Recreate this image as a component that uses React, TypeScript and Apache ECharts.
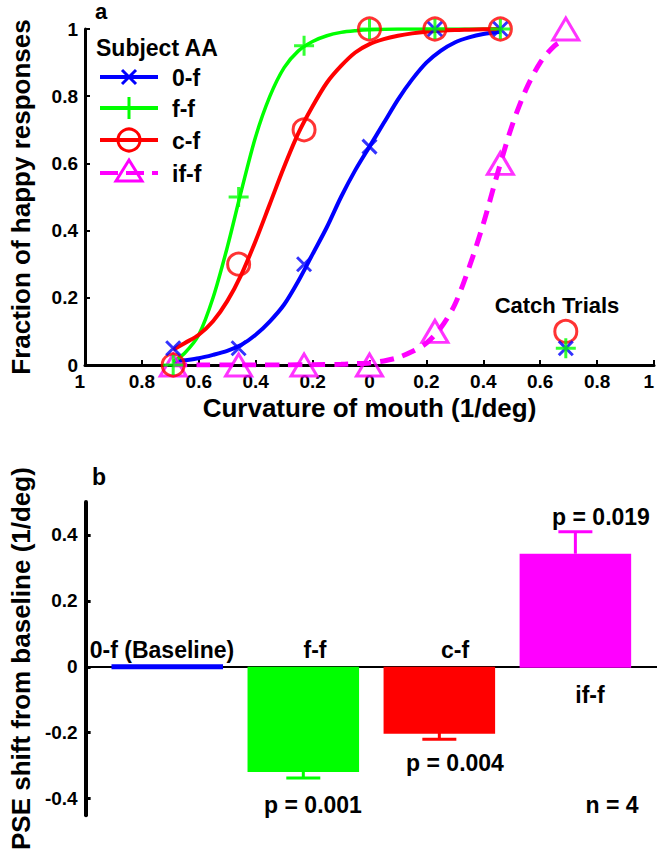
import React, { useEffect, useRef } from "react";
import * as echarts from "echarts";

// ---------- Panel a data ----------
const stimLevels = [-0.69, -0.46, -0.23, 0, 0.23, 0.46];
const ifLevels = [-0.69, -0.46, -0.23, 0, 0.23, 0.46, 0.69];
const catchX = 0.69;

const zeroF = [0.05, 0.05, 0.3, 0.65, 1, 1];
const fF = [0, 0.5, 0.95, 1, 1, 1];
const cF = [0, 0.3, 0.7, 1, 1, 1];
const ifF = [0, 0, 0, 0, 0.1, 0.6, 1];

const catchZeroF = 0.05;
const catchFF = 0.05;
const catchCF = 0.1;

// fitted psychometric curves
const fitZeroFX = [-0.69, -0.65, -0.6, -0.55, -0.5, -0.45, -0.4, -0.35, -0.3, -0.25, -0.2, -0.15, -0.1, -0.05, 0, 0.05, 0.1, 0.15, 0.2, 0.25, 0.3, 0.35, 0.4, 0.46];
const fitZeroFY = [0.01, 0.014, 0.02, 0.03, 0.042, 0.06, 0.09, 0.13, 0.18, 0.25, 0.33, 0.41, 0.5, 0.58, 0.65, 0.72, 0.79, 0.85, 0.9, 0.935, 0.96, 0.975, 0.985, 0.992];
const fitFFX = [-0.69, -0.65, -0.6, -0.55, -0.5, -0.45, -0.4, -0.35, -0.3, -0.25, -0.2, -0.15, -0.1, -0.05, 0, 0.1, 0.23, 0.46];
const fitFFY = [0.01, 0.035, 0.09, 0.2, 0.35, 0.52, 0.68, 0.8, 0.885, 0.935, 0.963, 0.98, 0.99, 0.995, 0.998, 1, 1, 1];
const fitCFX = [-0.69, -0.65, -0.6, -0.55, -0.5, -0.45, -0.4, -0.35, -0.3, -0.25, -0.2, -0.15, -0.1, -0.05, 0, 0.05, 0.1, 0.15, 0.2, 0.25, 0.3, 0.35, 0.4, 0.46];
const fitCFY = [0.045, 0.065, 0.09, 0.13, 0.19, 0.27, 0.37, 0.48, 0.59, 0.69, 0.77, 0.84, 0.89, 0.93, 0.955, 0.97, 0.98, 0.987, 0.992, 0.995, 0.997, 0.998, 0.999, 1];
const fitIfFX = [-0.69, -0.6, -0.5, -0.4, -0.3, -0.2, -0.1, -0.05, 0, 0.05, 0.1, 0.15, 0.2, 0.25, 0.3, 0.35, 0.4, 0.45, 0.5, 0.55, 0.6, 0.65, 0.69];
const fitIfFY = [0, 0, 0, 0, 0, 0.001, 0.002, 0.004, 0.006, 0.012, 0.022, 0.04, 0.065, 0.11, 0.18, 0.29, 0.42, 0.57, 0.71, 0.82, 0.9, 0.95, 0.97];

const legendNames = ["0-f", "f-f", "c-f", "if-f"];

// ---------- Panel b data ----------
const barCats = ["0-f (Baseline)", "f-f", "c-f", "if-f"];
const barPos = [1, 2, 3, 4];
const pseShift = [0, -0.316, -0.2, 0.343];
const pseErrEnd = [0, -0.337, -0.22, 0.41];
const pLabels = ["p = 0.001", "p = 0.004", "p = 0.019"];
const nLabel = "n = 4";

const BLUE = "#0000ff";
const GREEN = "#00ff00";
const RED = "#ff0000";
const MAGENTA = "#ff00ff";
const barColors = [BLUE, GREEN, RED, MAGENTA];

const FONT = "'Liberation Sans', Arial, Helvetica, sans-serif";

const X_PATH = "path://M0,0L10,10M10,0L0,10";
const PLUS_PATH = "path://M5,0L5,10M0,5L10,5";

function txt(text: string, x: number, y: number, size: number, align = "center") {
  return {
    type: "text",
    x,
    y,
    z: 50,
    style: {
      text,
      fill: "#000",
      fontSize: size,
      fontWeight: "bold",
      fontFamily: FONT,
      align,
      verticalAlign: "middle",
    },
  };
}

function legendMarker(kind: string, cx: number, cy: number, color: string): any[] {
  const st = { stroke: color, lineWidth: 3, fill: "none" };
  if (kind === "x")
    return [
      { type: "line", z: 51, shape: { x1: cx - 7, y1: cy - 7, x2: cx + 7, y2: cy + 7 }, style: st },
      { type: "line", z: 51, shape: { x1: cx + 7, y1: cy - 7, x2: cx - 7, y2: cy + 7 }, style: st },
    ];
  if (kind === "+")
    return [
      { type: "line", z: 51, shape: { x1: cx - 11, y1: cy, x2: cx + 11, y2: cy }, style: st },
      { type: "line", z: 51, shape: { x1: cx, y1: cy - 11, x2: cx, y2: cy + 11 }, style: st },
    ];
  if (kind === "o") return [{ type: "circle", z: 51, shape: { cx, cy, r: 11 }, style: st }];
  return [
    {
      type: "polygon",
      z: 51,
      shape: { points: [[cx, cy - 13], [cx + 13, cy + 8], [cx - 13, cy + 8]] },
      style: st,
    },
  ];
}

export default function App() {
  const ref = useRef<HTMLDivElement>(null);

  useEffect(() => {
    document.body.style.margin = "0";
    const chart = echarts.init(ref.current!, null, { renderer: "svg" });

    const zip = (xs: number[], ys: number[]) => xs.map((x, i) => [x, ys[i]]);

    const lineSeries = (name: string, xs: number[], ys: number[], color: string, width: number, dashed = false) => ({
      name,
      type: "line",
      xAxisIndex: 0,
      yAxisIndex: 0,
      data: zip(xs, ys),
      smooth: 0.3,
      showSymbol: false,
      symbol: "none",
      z: 3,
      lineStyle: { color, width, type: dashed ? [14, 9] : "solid" },
    });

    const markerSeries = (name: string, data: number[][], color: string, symbol: string, size: any) => ({
      name,
      type: "scatter",
      xAxisIndex: 0,
      yAxisIndex: 0,
      data,
      symbol,
      symbolSize: size,
      z: 5,
      itemStyle: { color: "rgba(0,0,0,0)", borderColor: color, borderWidth: 3 },
    });

    const legendColors = [BLUE, GREEN, RED, MAGENTA];
    const legendKinds = ["x", "+", "o", "^"];
    const legendY = [77, 108, 140, 173];
    const legendGraphics: any[] = [];
    legendNames.forEach((n, i) => {
      legendGraphics.push({
        type: "line",
        z: 50,
        shape: { x1: 100, y1: legendY[i], x2: 158, y2: legendY[i] },
        style: { stroke: legendColors[i], lineWidth: 4, lineDash: i === 3 ? [18, 8] : null },
      });
      legendGraphics.push(...legendMarker(legendKinds[i], 129, legendY[i], legendColors[i]));
      legendGraphics.push(txt(n, 172, legendY[i] + 1, 23, "left"));
    });

    const labelStyle = { color: "#000", fontSize: 19, fontWeight: "bold", fontFamily: FONT };

    const option: any = {
      animation: false,
      backgroundColor: "#ffffff",
      grid: [
        { left: 80, top: 29, width: 575, height: 336 },
        { left: 80, top: 502, width: 604, height: 320 },
      ],
      xAxis: [
        {
          type: "value",
          gridIndex: 0,
          min: -1,
          max: 1,
          interval: 0.2,
          name: "Curvature of mouth (1/deg)",
          nameLocation: "middle",
          nameGap: 30,
          nameTextStyle: { fontSize: 26, fontWeight: "bold", fontFamily: FONT, color: "#000" },
          axisLine: { show: true, onZero: false, lineStyle: { color: "#000", width: 3 } },
          axisTick: { show: true, inside: true, length: 5, lineStyle: { color: "#000", width: 2 } },
          axisLabel: {
            ...labelStyle,
            margin: 7,
            showMinLabel: true,
            showMaxLabel: true,
            alignMinLabel: "right",
            alignMaxLabel: "right",
            formatter: (v: number) => String(parseFloat(Math.abs(v).toFixed(1))),
          },
          splitLine: { show: false },
        },
        {
          type: "value",
          gridIndex: 1,
          min: 0.4,
          max: 4.6,
          axisLine: { show: true, onZero: true, lineStyle: { color: "#000", width: 2 } },
          axisTick: { show: false },
          axisLabel: { show: false },
          splitLine: { show: false },
        },
      ],
      yAxis: [
        {
          type: "value",
          gridIndex: 0,
          min: 0,
          max: 1,
          interval: 0.2,
          name: "Fraction of happy responses",
          nameLocation: "middle",
          nameGap: 51,
          nameTextStyle: { fontSize: 26, fontWeight: "bold", fontFamily: FONT, color: "#000" },
          axisLine: { show: true, onZero: false, lineStyle: { color: "#000", width: 3 } },
          axisTick: { show: true, inside: true, length: 5, lineStyle: { color: "#000", width: 2 } },
          axisLabel: { ...labelStyle, margin: 7, formatter: (v: number) => String(parseFloat(v.toFixed(1))) },
          splitLine: { show: false },
        },
        {
          type: "value",
          gridIndex: 1,
          min: -0.45,
          max: 0.5,
          name: "PSE shift from baseline (1/deg)",
          nameLocation: "middle",
          nameGap: 51,
          nameTextStyle: { fontSize: 26, fontWeight: "bold", fontFamily: FONT, color: "#000" },
          axisLine: { show: true, onZero: false, lineStyle: { color: "#000", width: 4 } },
          axisTick: {
            show: true,
            inside: true,
            length: 5,
            customValues: [-0.4, -0.2, 0, 0.2, 0.4],
            lineStyle: { color: "#000", width: 3 },
          },
          axisLabel: {
            ...labelStyle,
            margin: 8,
            customValues: [-0.4, -0.2, 0, 0.2, 0.4],
            formatter: (v: number) => String(parseFloat(v.toFixed(1))),
          },
          splitLine: { show: false },
        },
      ],
      series: [
        lineSeries("0-f fit", fitZeroFX, fitZeroFY, BLUE, 4),
        lineSeries("f-f fit", fitFFX, fitFFY, GREEN, 3.5),
        lineSeries("c-f fit", fitCFX, fitCFY, RED, 4),
        lineSeries("if-f fit", fitIfFX, fitIfFY, MAGENTA, 5, true),
        markerSeries("if-f", zip(ifLevels, ifF), MAGENTA, "triangle", [26, 22]),
        markerSeries("c-f", [...zip(stimLevels, cF), [catchX, catchCF]], RED, "circle", 22),
        markerSeries("0-f", [...zip(stimLevels, zeroF), [catchX, catchZeroF]], BLUE, X_PATH, 14),
        markerSeries("f-f", [...zip(stimLevels, fF), [catchX, catchFF]], GREEN, PLUS_PATH, 20),
        {
          name: "PSE shift",
          type: "custom",
          xAxisIndex: 1,
          yAxisIndex: 1,
          z: 3,
          data: barPos.map((p, i) => [p, pseShift[i], i]),
          renderItem: (_params: any, api: any) => {
            const x = api.value(0);
            const v = api.value(1);
            const i = api.value(2);
            const p0 = api.coord([x - 0.41, 0]);
            const p1 = api.coord([x + 0.41, v]);
            const h = p1[1] - p0[1];
            if (Math.abs(h) < 3) {
              return {
                type: "line",
                shape: { x1: p0[0], y1: p0[1], x2: p1[0], y2: p0[1] },
                style: { stroke: barColors[i], lineWidth: 5 },
              };
            }
            return {
              type: "rect",
              shape: { x: p0[0], y: Math.min(p0[1], p1[1]), width: p1[0] - p0[0], height: Math.abs(h) + 1 },
              style: { fill: barColors[i] },
            };
          },
        },
        {
          name: "PSE error",
          type: "custom",
          xAxisIndex: 1,
          yAxisIndex: 1,
          z: 4,
          data: barPos.map((p, i) => [p, pseShift[i], pseErrEnd[i], i]),
          renderItem: (_params: any, api: any) => {
            const x = api.value(0);
            const v = api.value(1);
            const e = api.value(2);
            const i = api.value(3);
            if (e === v) return { type: "group", children: [] };
            const a = api.coord([x, v]);
            const b = api.coord([x, e]);
            const st = { stroke: barColors[i], lineWidth: 3 };
            return {
              type: "group",
              children: [
                { type: "line", shape: { x1: a[0], y1: a[1], x2: b[0], y2: b[1] }, style: st },
                { type: "line", shape: { x1: b[0] - 17, y1: b[1], x2: b[0] + 17, y2: b[1] }, style: st },
              ],
            };
          },
        },
      ],
      graphic: [
        txt("a", 101, 11, 22),
        txt("Subject AA", 96, 48, 23, "left"),
        ...legendGraphics,
        txt("Catch Trials", 557, 305, 22),
        txt("b", 99, 477, 23),
        txt(barCats[0], 162, 650, 23),
        txt(barCats[1], 315, 650, 23),
        txt(barCats[2], 455, 650, 23),
        txt(barCats[3], 590, 695, 23),
        txt(pLabels[0], 313, 805, 23),
        txt(pLabels[1], 455, 763, 23),
        txt(pLabels[2], 601, 517, 23),
        txt(nLabel, 612, 805, 23),
      ],
    };

    chart.setOption(option);
    return () => chart.dispose();
  }, []);

  return <div ref={ref} style={{ width: 657, height: 853 }} />;
}
